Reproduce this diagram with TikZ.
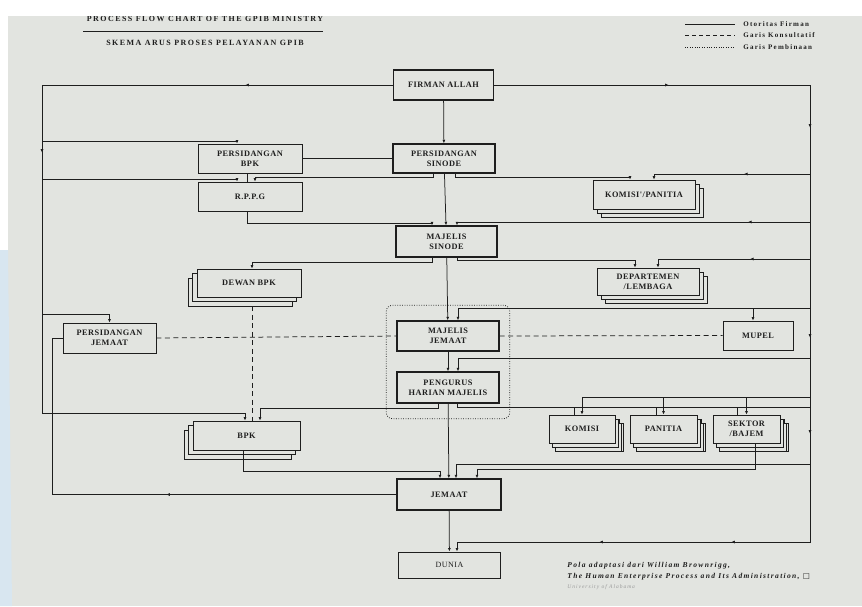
\documentclass[tikz,border=0pt]{standalone}
\usepackage{fontspec}
\setmainfont{Liberation Serif}
\newfontfamily\chartfont[LetterSpace=6]{Liberation Serif}
\newfontfamily\headfont[LetterSpace=18]{Liberation Serif}
\newfontfamily\symfont{DejaVu Sans}
\usetikzlibrary{arrows.meta,shadows,fit,decorations.markings}
\definecolor{paper}{HTML}{E2E4E0}
\definecolor{ink}{HTML}{1E1E1E}
\definecolor{edgeblue}{HTML}{D8E6F0}

\begin{document}
\begin{tikzpicture}[x=1pt,y=-1pt,line width=0.75pt,color=ink]
  \tikzstyle{unit}=[draw=ink,fill=paper,line width=0.75pt,align=center,inner sep=0pt,text=ink,font=\chartfont\bfseries\fontsize{8.3}{10}\selectfont]
  \tikzstyle{office}=[unit,line width=1.4pt]
  \tikzstyle{stackright}=[unit,double copy shadow={shadow xshift=4pt,shadow yshift=-4pt}]
  \tikzstyle{stackleft}=[unit,double copy shadow={shadow xshift=-4.5pt,shadow yshift=-4.5pt}]
  \tikzstyle{flow}=[draw=ink,-{Latex[length=3.5pt,width=3pt]}]
  \tikzstyle{konsul}=[draw=ink,dash pattern=on 5pt off 3.5pt]
  \tikzstyle{bina}=[draw=ink,dash pattern=on 0.8pt off 1.6pt]
  \tikzstyle{caption}=[inner sep=0pt,text=ink,font=\headfont\bfseries\fontsize{8}{9}\selectfont]
  \tikzstyle{legend}=[inner sep=0pt,anchor=west,text=ink,font=\headfont\bfseries\fontsize{7}{8}\selectfont]
  \tikzstyle{note}=[inner sep=0pt,anchor=west,text=ink,font=\headfont\bfseries\itshape\fontsize{7.5}{8}\selectfont]
  \tikzset{midtip/.style={postaction={decorate,decoration={markings,mark=at position #1 with {\arrow{Latex[length=3.5pt,width=3pt]}}}}}}

  % page
  \useasboundingbox (0,0) rectangle (862,606);
  \fill[white] (0,0) rectangle (862,606);
  \fill[paper] (8,16) rectangle (862,606);
  \fill[edgeblue] (0,250) -- (8,250) -- (12,606) -- (0,606) -- cycle;

  % heading
  \node[caption] (title) at (205,19) {PROCESS FLOW CHART OF THE GPIB MINISTRY};
  \fill[white] (0,0) rectangle (862,16);
  \draw[line width=0.6pt] (83,31) -- (323,31);
  \node[caption] (skema) at (205,43) {SKEMA ARUS PROSES PELAYANAN GPIB};

  % legend
  \coordinate (lg1) at (685,24);
  \coordinate (lg2) at (685,35);
  \coordinate (lg3) at (685,47);
  \draw (lg1) -- ++(50,0) node[legend,right=8pt] (lgfirman) {Otoritas Firman};
  \draw[konsul,dash pattern=on 4pt off 3pt] (lg2) -- ++(50,0) node[legend,right=8pt] (lgkonsul) {Garis Konsultatif};
  \draw[bina] (lg3) -- ++(50,0) node[legend,right=8pt] (lgbina) {Garis Pembinaan};

  % main line
  \node[office,minimum width=100pt,minimum height=30pt] (fa) at (443.5,85) {FIRMAN ALLAH};
  \node[office,minimum width=102pt,minimum height=29pt] (ps) at (444,158.5) {PERSIDANGAN\\SINODE};
  \node[office,minimum width=101pt,minimum height=31pt] (ms) at (446.5,241.5) {MAJELIS\\SINODE};
  \node[office,minimum width=102pt,minimum height=30pt] (mj) at (448,336) {MAJELIS\\JEMAAT};
  \node[office,minimum width=102pt,minimum height=31pt] (ph) at (448,387.5) {PENGURUS\\HARIAN MAJELIS};
  \node[office,minimum width=104pt,minimum height=31pt] (jm) at (449,494.5) {JEMAAT};
  \node[unit,line width=1pt,minimum width=102pt,minimum height=26pt,font=\chartfont\fontsize{8}{9}\selectfont] (du) at (449.5,565) {DUNIA};

  % left side
  \node[unit,minimum width=104pt,minimum height=29pt] (pbpk) at (250,158.5) {PERSIDANGAN\\BPK};
  \node[unit,minimum width=104pt,minimum height=29pt] (rppg) at (250,196.5) {R.P.P.G};
  \node[stackleft,minimum width=104pt,minimum height=28pt] (dbpk) at (249,283) {DEWAN BPK};
  \node[unit,minimum width=93pt,minimum height=30pt] (pj) at (109.5,338) {PERSIDANGAN\\JEMAAT};
  \node[stackleft,minimum width=107pt,minimum height=29pt] (bpk) at (246.5,435.5) {BPK};

  % right side
  \node[stackright,minimum width=102pt,minimum height=29pt] (kp) at (644,194.5) {KOMISI'/PANITIA};
  \node[stackright,minimum width=102pt,minimum height=27pt] (dl) at (648,281.5) {DEPARTEMEN\\/LEMBAGA};
  \node[unit,minimum width=70pt,minimum height=29pt] (mp) at (758,335.5) {MUPEL};
  \node[stackright,minimum width=66pt,minimum height=28pt,double copy shadow={shadow xshift=3pt,shadow yshift=-4pt}] (ko) at (582,429) {KOMISI};
  \node[stackright,minimum width=67pt,minimum height=28pt,double copy shadow={shadow xshift=3pt,shadow yshift=-4pt}] (pa) at (663.5,429) {PANITIA};
  \node[stackright,minimum width=67pt,minimum height=28pt,double copy shadow={shadow xshift=3pt,shadow yshift=-4pt}] (sb) at (746.5,429) {SEKTOR\\/BAJEM};

  \node[bina,rounded corners=6pt,line width=0.75pt,fit=(mj)(ph),inner xsep=10pt,inner ysep=15pt] (grp) {};

  % spine
  \draw[flow] (fa) -- (ps);
  \draw[flow] (ps) -- (ms);
  \draw[flow] (ms) -- (mj);
  \draw[flow] (mj) -- (ph);
  \draw[flow] (ph) -- (jm);
  \draw[flow] (jm) -- (du);

  % left trunk
  \coordinate (lt0) at (42,85);
  \coordinate (lt1) at (42,413);
  \coordinate (lt2) at (42,141);
  \coordinate (lt3) at (42,179);
  \coordinate (lt4) at (42,314);
  \coordinate (lb0) at (52,494.5);
  \draw[flow,midtip=147.5pt,midtip=418.5pt] (fa.west) -- (lt0) -- (lt1) -| ([xshift=-1.5pt]bpk.north);
  \draw[flow] (lt2) -| ([xshift=-13pt]pbpk.north);
  \draw[flow] (lt3) -| ([xshift=-13pt]rppg.north);
  \draw[flow] (lt4) -| (pj.north);
  \draw[midtip=230pt] (jm.west) -- (lb0) |- (pj.west);

  \draw (pbpk) -- (ps);
  \draw ([xshift=-3pt]pbpk.south) -- ([xshift=-3pt]rppg.north);
  \draw[flow] ([xshift=-11pt]ps.south) -- ++(0,4) -| ([xshift=5pt]rppg.north);
  \draw[flow] ([xshift=11pt]ps.south) -- ++(0,4) -| ([xshift=-14pt]kp.north);
  \draw[flow] ([xshift=-3pt]rppg.south) -- ++(0,12) -| ([xshift=-14.5pt]ms.north);
  \draw[flow] ([xshift=-14.5pt]ms.south) -- ++(0,5) -| ([xshift=3pt]dbpk.north);
  \draw[flow] ([xshift=10.5pt]ms.south) -- ++(0,3) -| ([xshift=-13pt]dl.north);
  \draw[flow] ([xshift=-10pt]ph.south) -- ++(0,5) -| ([xshift=13.5pt]bpk.north);
  \draw[flow] ([xshift=-3.5pt]bpk.south) -- ++(0,21) -| ([xshift=-9pt]jm.north);

  % consultative and guidance lines
  \draw[konsul] ([xshift=3pt,yshift=-9pt]dbpk.south) -- ([xshift=5.5pt]bpk.north);
  \draw[konsul] (pj.east) -- (mj.west);
  \draw[konsul] (mj.east) -- (mp.west);

  % right trunk
  \coordinate (rt0) at (810,85);
  \coordinate (rt1) at (810,542);
  \coordinate (r1) at (810,174);
  \coordinate (r2) at (810,222);
  \coordinate (r3) at (810,259);
  \coordinate (r4) at (810,308);
  \coordinate (r4m) at (753,308);
  \coordinate (r5) at (810,358);
  \coordinate (r6) at (810,397);
  \coordinate (r7) at (810,407);
  \coordinate (r8) at (810,464);
  \draw[flow,midtip=174.5pt,midtip=358.5pt,midtip=568.5pt,midtip=664.5pt,midtip=851.5pt,midtip=983.5pt]
    (fa.east) -- (rt0) -- (rt1) -| ([xshift=7.5pt]du.north);
  \draw[flow,midtip=66pt] (r1) -| ([xshift=10pt]kp.north);
  \draw[flow,midtip=62pt] (r2) -| ([xshift=10.5pt]ms.north);
  \draw[flow,midtip=60pt] (r3) -| ([xshift=10pt]dl.north);
  \draw[flow] (r4) -| ([xshift=10pt]mj.north);
  \draw[flow] (r4m) -- (r4m |- mp.north);
  \draw[flow] (r5) -| ([xshift=10pt]ph.north);
  \draw[flow] (r6) -| (ko.north);
  \draw[flow] (pa.north |- r6) -- (pa.north);
  \draw[flow] (sb.north |- r6) -- (sb.north);
  \draw ([xshift=9pt]ph.south) |- (r7);
  \draw ([xshift=-8pt]ko.north) -- ++(0,-8);
  \draw ([xshift=-7.5pt]pa.north) -- ++(0,-8);
  \draw ([xshift=-9.5pt]sb.north) -- ++(0,-8);
  \draw[flow] (r8) -| ([xshift=7pt]jm.north);
  \draw[flow] ([xshift=8.5pt]sb.south) -- ++(0,26) -| ([xshift=28pt]jm.north);

  % source
  \node[note] (src1) at (567,566) {Pola adaptasi dari William Brownrigg,};
  \node[note] (src2) at (567,577) {The Human Enterprise Process and Its Administration, {\symfont\upshape\char"25A1}};
  \node[note,text=ink!45,font=\headfont\itshape\fontsize{5.5}{7}\selectfont] (src3) at (567,587) {University of Alabama};
\end{tikzpicture}
\end{document}
